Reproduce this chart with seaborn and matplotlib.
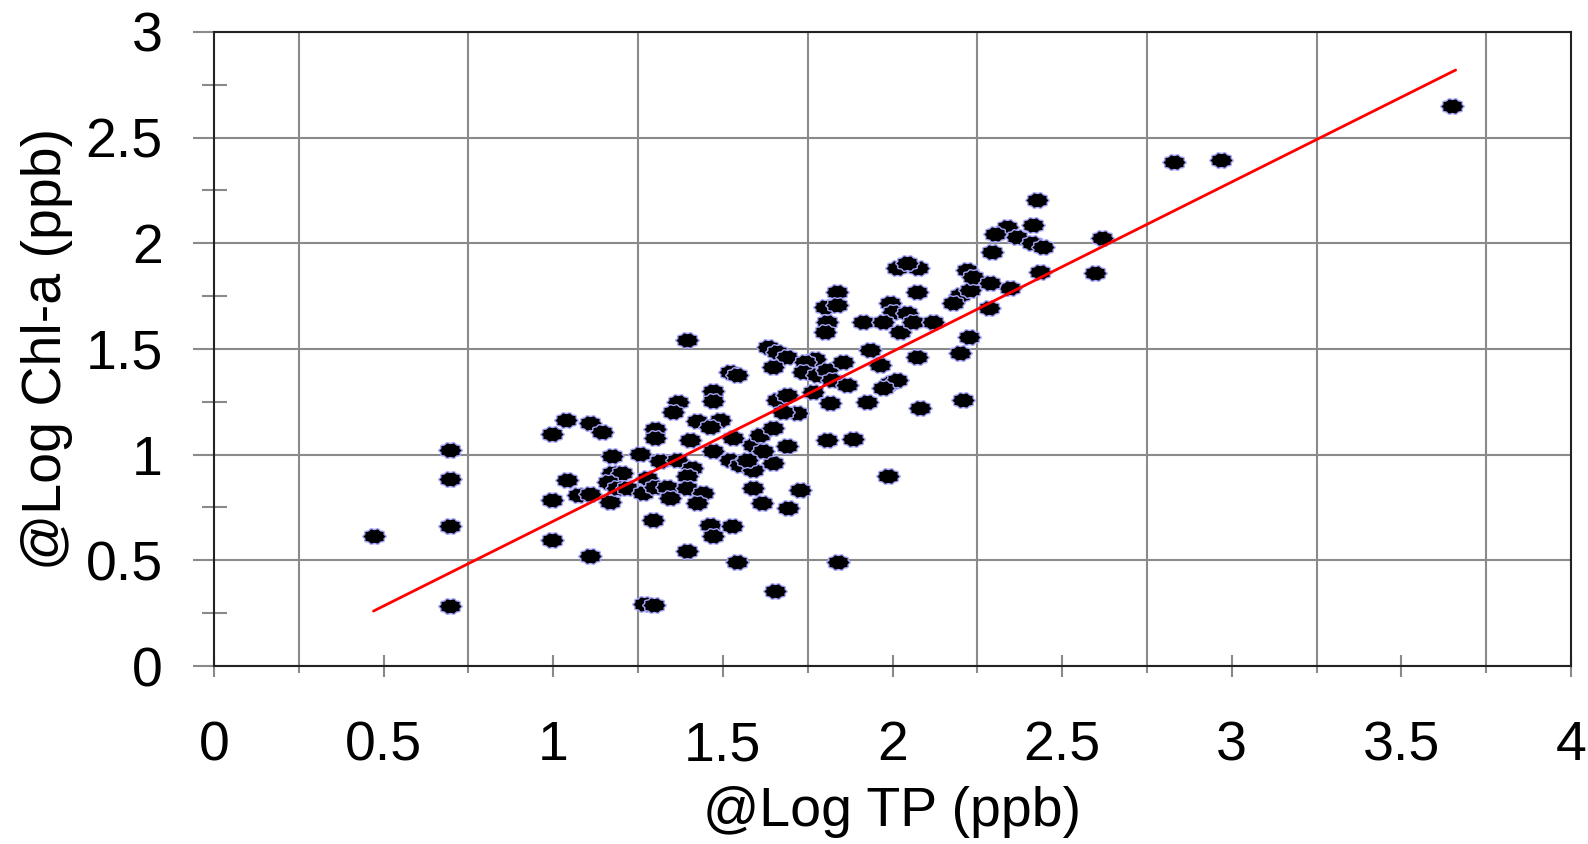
import numpy as np
import seaborn as sns
from matplotlib import pyplot as plt

# values (log TP vs log Chl-a)
log_tp = [
    0.470, 0.696, 0.696, 0.696, 0.696,
    0.997, 1.038, 1.108, 1.143, 1.172, 1.256, 1.040, 0.996, 1.074, 1.108,
    1.167, 1.172, 1.202, 1.162, 1.187, 1.216, 1.275, 1.315, 1.265, 1.300,
    1.334, 1.344, 1.364, 1.408, 1.393, 1.393, 1.442, 1.423, 1.295, 0.997,
    1.108, 1.393, 1.462, 1.526, 1.472, 1.541, 1.654, 1.300, 1.300, 1.369,
    1.354, 1.403, 1.423, 1.472, 1.472, 1.492, 1.462, 1.472, 1.531, 1.521,
    1.550, 1.590, 1.590, 1.609, 1.649, 1.649, 1.688, 1.619, 1.570, 1.590,
    1.614, 1.693, 1.727, 1.659, 1.688, 1.717, 1.678, 1.266, 1.297, 1.840,
    1.393, 1.634, 1.659, 1.688, 1.649, 1.521, 1.541, 1.772, 1.742, 1.737,
    1.776, 1.806, 1.855, 1.821, 1.865, 1.767, 1.816, 1.806, 1.884, 1.924,
    1.988, 1.934, 1.963, 1.992, 2.012, 1.973, 2.071, 2.081, 2.199, 2.209,
    2.224, 2.012, 2.076, 2.042, 2.071, 1.835, 1.801, 1.835, 1.806, 1.801,
    1.914, 1.993, 2.002, 2.042, 1.973, 2.022, 2.061, 2.120, 2.199, 2.228,
    2.179, 2.219, 2.238,
    2.425, 2.337, 2.415, 2.302, 2.366, 2.410, 2.445, 2.292, 2.617, 2.597,
    2.435, 2.346, 2.287, 2.283,
    2.830, 2.967, 3.650,
]
log_chla = [
    0.617, 1.022, 0.885, 0.664, 0.284,
    1.098, 1.165, 1.149, 1.106, 0.994, 1.004, 0.881, 0.786, 0.807, 0.813,
    0.778, 0.912, 0.912, 0.873, 0.841, 0.841, 0.889, 0.968, 0.818, 0.849,
    0.849, 0.794, 0.975, 0.936, 0.897, 0.841, 0.818, 0.770, 0.692, 0.597,
    0.521, 0.542, 0.668, 0.663, 0.613, 0.490, 0.357, 1.121, 1.078, 1.251,
    1.201, 1.070, 1.157, 1.299, 1.256, 1.165, 1.133, 1.015, 1.078, 0.975,
    0.952, 0.928, 1.046, 1.094, 1.125, 0.960, 1.039, 1.015, 0.975, 0.841,
    0.770, 0.747, 0.833, 1.259, 1.283, 1.196, 1.204, 0.292, 0.287, 0.491,
    1.543, 1.508, 1.488, 1.464, 1.417, 1.392, 1.377, 1.451, 1.440, 1.393,
    1.377, 1.401, 1.440, 1.353, 1.330, 1.298, 1.246, 1.068, 1.072, 1.251,
    0.900, 1.495, 1.424, 1.338, 1.354, 1.314, 1.464, 1.219, 1.480, 1.259,
    1.559, 1.882, 1.882, 1.906, 1.771, 1.771, 1.700, 1.708, 1.630, 1.582,
    1.630, 1.716, 1.677, 1.669, 1.630, 1.582, 1.630, 1.630, 1.756, 1.779,
    1.716, 1.874, 1.843,
    2.205, 2.079, 2.087, 2.044, 2.029, 2.000, 1.984, 1.961, 2.024, 1.858,
    1.866, 1.787, 1.811, 1.693,
    2.384, 2.395, 2.650,
]

# trend line end points
fit_x = [0.47, 3.66]
fit_y = [0.26, 2.82]

x_ticks = [0, 0.5, 1, 1.5, 2, 2.5, 3, 3.5, 4]
x_tick_labels = ["0", "0.5", "1", "1.5", "2", "2.5", "3", "3.5", "4"]
x_grid = [0.25, 0.75, 1.25, 1.75, 2.25, 2.75, 3.25, 3.75]
y_ticks = [0, 0.5, 1, 1.5, 2, 2.5, 3]
y_tick_labels = ["0", "0.5", "1", "1.5", "2", "2.5", "3"]
y_minor = [0.25, 0.75, 1.25, 1.75, 2.25, 2.75]

sns.set_style("white")
plt.rcParams['font.family'] = ['Liberation Sans', 'DejaVu Sans']
plt.rcParams['text.color'] = 'black'
plt.rcParams['axes.labelcolor'] = 'black'

# bumpy, slightly wide marker like the original
t = np.linspace(0, 2 * np.pi, 121)
r = 1 + 0.07 * np.cos(10 * t)
blob = np.column_stack([1.45 * r * np.cos(t), r * np.sin(t)])

fig, ax = plt.subplots(figsize=(15.88, 8.44), dpi=100)
fig.subplots_adjust(left=0.1348, right=0.9893, top=0.9621, bottom=0.2109)

sns.scatterplot(x=log_tp, y=log_chla, marker=blob, s=285, color="black",
                edgecolor="#a8a8ff", linewidth=1, ax=ax, zorder=3)
sns.lineplot(x=fit_x, y=fit_y, color="red", lw=2, ax=ax, zorder=4)

ax.set_xlim(0, 4)
ax.set_ylim(0, 3)
ax.set_xticks(x_ticks)
ax.set_xticklabels(x_tick_labels)
ax.set_xticks(x_grid, minor=True)
ax.set_yticks(y_ticks)
ax.set_yticklabels(y_tick_labels)
ax.set_yticks(y_minor, minor=True)

grey = "#8a8a8a"
ax.grid(False)
ax.xaxis.grid(True, which="minor", color=grey, lw=1.5)
ax.yaxis.grid(True, which="major", color=grey, lw=1.5)
ax.set_axisbelow(True)
ax.tick_params(which="both", bottom=True, left=True, top=False, right=False)
ax.tick_params(axis="x", which="major", direction="inout", length=16, width=1.5,
               color=grey, pad=31, labelsize=40, labelcolor="black")
ax.tick_params(axis="x", which="minor", direction="out", length=5, width=1.5, color=grey)
ax.tick_params(axis="y", which="major", direction="out", length=15, width=1.5,
               color=grey, pad=22, labelsize=40, labelcolor="black")
ax.tick_params(axis="y", which="minor", direction="inout", length=18, width=1.5, color=grey)
for sp in ax.spines.values():
    sp.set_visible(True)
    sp.set_color("#222222")
    sp.set_linewidth(1.5)

ax.set_xlabel("@Log TP (ppb)", fontsize=40, color="black")
ax.set_ylabel("@Log Chl-a (ppb)", fontsize=40, color="black")
ax.xaxis.set_label_coords(0.5, -0.19)
ax.yaxis.set_label_coords(-0.104, 0.5)

fig.savefig("out.png", dpi=100)
